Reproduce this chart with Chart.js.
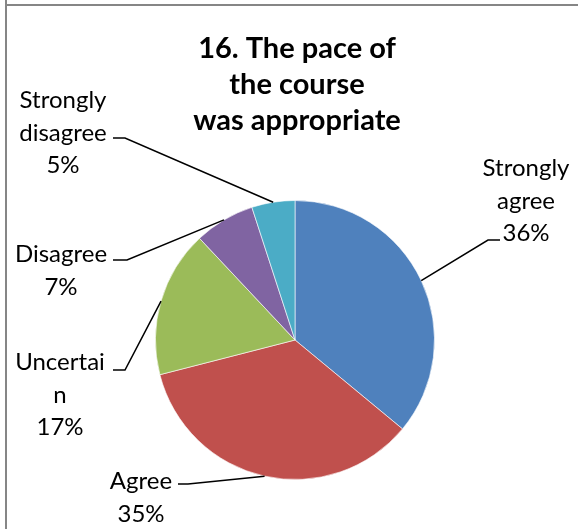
<!DOCTYPE html>
<html>
<head>
<meta charset="utf-8">
<script src="https://cdn.jsdelivr.net/npm/chart.js"></script>
<style>
  body { margin: 0; background: #fff; }
  canvas { display: block; }
</style>
</head>
<body>
<canvas id="pieChart" width="578" height="529"></canvas>
<script>
// data
const categories = ['Strongly agree', 'Agree', 'Uncertain', 'Disagree', 'Strongly disagree'];
const values = [36, 35, 17, 7, 5];
const labelLines = [['Strongly', 'agree'], ['Agree'], ['Uncertai', 'n'], ['Disagree'], ['Strongly', 'disagree']];
const titleLines = ['16. The pace of', 'the course', 'was appropriate'];
const colors = ['#4F81BD', '#C0504D', '#9BBB59', '#8064A2', '#4BACC6'];

// where each data label sits: centre x, first baseline, elbow and end of leader line
const labelPos = [
    { x: 526, y: 176, elbow: [488, 240], end: [500, 240] },
    { x: 141, y: 489, elbow: [188, 484], end: [178, 484] },
    { x: 60, y: 370, elbow: [125, 370], end: [113, 370] },
    { x: 61, y: 262, elbow: [127, 260], end: [113, 260] },
    { x: 63, y: 108, elbow: [125, 138], end: [113, 138] }
];
const lineH = 32.5;

const decor = {
    id: 'decor',
    afterDraw(chart) {
        const c = chart.ctx;
        c.save();
        // frame
        c.fillStyle = '#868686';
        c.fillRect(5, 0, 2, 529);
        c.fillRect(5, 4, 573, 2);

        // title
        c.fillStyle = '#000';
        c.textAlign = 'center';
        c.textBaseline = 'alphabetic';
        c.font = 'bold 29px Lato';
        const ty = [58, 94, 130];
        titleLines.forEach((t, i) => c.fillText(t, 297, ty[i]));

        // labels + leader lines
        const meta = chart.getDatasetMeta(0);
        c.font = '24px Lato';
        meta.data.forEach((arc, i) => {
            const p = labelPos[i];
            const lines = labelLines[i].concat([values[i] + '%']);
            lines.forEach((t, j) => c.fillText(t, p.x, p.y + j * lineH));

            const a = (arc.startAngle + arc.endAngle) / 2;
            const ax = arc.x + Math.cos(a) * arc.outerRadius;
            const ay = arc.y + Math.sin(a) * arc.outerRadius;
            c.strokeStyle = '#000';
            c.lineWidth = 1.5;
            c.beginPath();
            c.moveTo(ax, ay);
            c.lineTo(p.elbow[0], p.elbow[1]);
            c.lineTo(p.end[0], p.end[1]);
            c.stroke();
        });
        c.restore();
    }
};

const ctx = document.getElementById('pieChart').getContext('2d');
const chart = new Chart(ctx, {
    type: 'pie',
    data: {
        labels: categories,
        datasets: [{
            data: values,
            backgroundColor: colors,
            borderColor: 'rgba(255,255,255,0.6)',
            borderWidth: 1
        }]
    },
    options: {
        responsive: false,
        animation: false,
        layout: { padding: { left: 155, right: 143, top: 200, bottom: 49 } },
        plugins: {
            legend: { display: false },
            tooltip: { enabled: false }
        }
    },
    plugins: [decor]
});
</script>
</body>
</html>
